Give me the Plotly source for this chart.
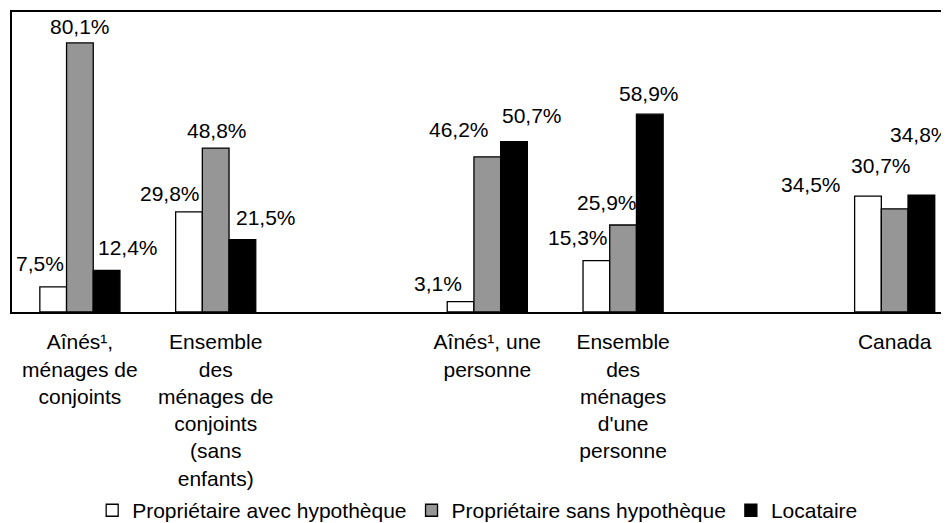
import plotly.graph_objects as go

# ---- data ----
categories = [
    "Aînés¹,<br>ménages de<br>conjoints",
    "Ensemble<br>des<br>ménages de<br>conjoints<br>(sans<br>enfants)",
    " ",
    "Aînés¹, une<br>personne",
    "Ensemble<br>des<br>ménages<br>d'une<br>personne",
    "  ",
    "Canada",
]
series_names = ["Propriétaire avec hypothèque", "Propriétaire sans hypothèque", "Locataire"]
avec_hypotheque = [7.5, 29.8, None, 3.1, 15.3, None, 34.5]
sans_hypotheque = [80.1, 48.8, None, 46.2, 25.9, None, 30.7]
locataire = [12.4, 21.5, None, 50.7, 58.9, None, 34.8]

# ---- style ----
colors = ["#FFFFFF", "#969696", "#000000"]
FONT = "Liberation Sans, Arial, sans-serif"
FS = 21
# page body has an 8px default margin, so the figure is sized/offset to compensate
W, H = 941, 515
ML, MR, MT, MB = 4, 0, 4, 211
XMIN, XMAX = -0.5, 6.4
BARGAP = 0.41

# label displacements (px) relative to top-centre of each bar: (dx, dy up)
label_shift = [
    [(-13, 23), (-19, 18), None, (-23, 18), (-18, 23), None, (-57, 12)],
    [(0, 16), (1, 18), None, (-28, 27), (-16, 22), None, (-14, 43)],
    [(21, 23), (24, 22), None, (18, 26), (-1, 21), None, (-1, 61)],
]

series = [avec_hypotheque, sans_hypotheque, locataire]

fig = go.Figure()
for name, vals, col in zip(series_names, series, colors):
    fig.add_trace(go.Bar(
        x=categories, y=vals, name=name,
        marker=dict(color=col, line=dict(color="#000000", width=1.3)),
    ))

slot_px = (W - ML - MR) / (XMAX - XMIN)
bar_px = slot_px * (1 - BARGAP) / 3

annotations = []
for s, vals in enumerate(series):
    for i, v in enumerate(vals):
        if v is None:
            continue
        dx, dy = label_shift[s][i]
        annotations.append(dict(
            x=i, y=v, xref="x", yref="y",
            text=f"{v:.1f}%".replace(".", ","),
            showarrow=False, xanchor="center", yanchor="middle",
            xshift=(s - 1) * bar_px + dx, yshift=dy,
            font=dict(family=FONT, size=FS, color="#000000"),
        ))

fig.update_layout(
    width=W, height=H,
    margin=dict(l=ML, r=MR, t=MT, b=MB, pad=0, autoexpand=False),
    paper_bgcolor="#FFFFFF", plot_bgcolor="#FFFFFF",
    barmode="group", bargap=BARGAP, bargroupgap=0,
    font=dict(family=FONT, size=FS, color="#000000"),
    showlegend=True,
    legend=dict(
        orientation="h", x=0.497, xanchor="center", y=-0.662, yanchor="middle",
        font=dict(family=FONT, size=FS, color="#000000"),
        itemwidth=30, traceorder="normal",
    ),
    annotations=annotations,
)
fig.update_xaxes(
    type="category", range=[XMIN, XMAX], automargin=False,
    showline=True, linecolor="#000000", linewidth=2, mirror=True,
    showgrid=False, ticks="", tickfont=dict(family=FONT, size=FS, color="#000000"),
    tickangle=0, ticklabelstandoff=10,
)
fig.update_yaxes(
    range=[0, 89.3], showline=True, linecolor="#000000", linewidth=2, automargin=False,
    showgrid=False, zeroline=False, showticklabels=False, ticks="",
)

fig.write_html("out.html")
